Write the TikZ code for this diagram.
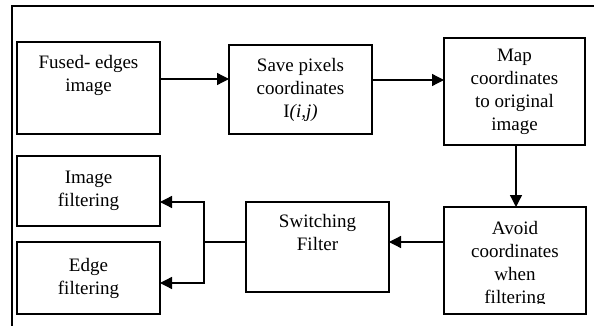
\documentclass[tikz,border=0pt]{standalone}
\usepackage{fontspec}
\setmainfont{Liberation Serif}
\usetikzlibrary{arrows.meta}
\begin{document}
\begin{tikzpicture}[x=1pt,y=-1pt,
  every node/.style={inner sep=0pt, outer sep=0pt},
  blocktext/.style={align=center, font=\fontsize{19}{23}\selectfont},
  blockbox/.style={draw, line width=1.4pt, rectangle, blocktext},
  flow/.style={line width=1.3pt, -{Triangle[length=12pt,width=12pt]}},
  plain/.style={line width=1.3pt}]
\useasboundingbox (0,0) rectangle (594,326);
% outer frame (open at right and bottom)
\draw[line width=1.3pt] (12,326) -- (12,6) -- (594,6);

% blocks
\node[blockbox, minimum width=143pt, minimum height=92pt] (fused) at (88.5,88) {Fused- edges\\image\\\strut};
\node[blockbox, minimum width=143pt, minimum height=89pt] (save) at (300.5,89.5) {Save pixels\\coordinates\\I\textit{(i,j)}};
\node[blockbox, minimum width=141pt, minimum height=107pt] (map) at (514.5,91.5) {Map\\coordinates\\to original\\image};
\node[blockbox, minimum width=142pt, minimum height=107pt] (avoid) at (515,260.5) {};
\node[blocktext] (avoidtext) at (515,264.5) {Avoid\\coordinates\\when\\filtering};
\node[blockbox, minimum width=143pt, minimum height=90pt] (switch) at (317.5,247) {Switching\\Filter\\\strut};
\node[blockbox, minimum width=143pt, minimum height=70pt] (imgf) at (88.5,191) {Image\\filtering};
\node[blockbox, minimum width=143pt, minimum height=72pt] (edgef) at (88.5,278) {Edge\\filtering};

% the last text line of the avoid block is cut off at its descenders
\fill[white] (446,303.5) rectangle (584,312.3);

% connectors
\coordinate (split) at (204,242);
\draw[flow] ([yshift=9pt]fused.east) -- ([yshift=9pt]fused.east -| save.west);
\draw[flow] ([yshift=9.5pt]save.east) -- ([yshift=9.5pt]save.east -| map.west);
\draw[flow] ([xshift=1.5pt]map.south) -- ([xshift=1.5pt]map.south |- avoid.north);
\draw[flow] ([yshift=18.5pt]avoid.west) -- ([yshift=18.5pt]avoid.west -| switch.east);
\draw[plain] (switch.west) ++(0,-5) -- (split);
\draw[flow] (split) |- ([yshift=-11pt]imgf.east);
\draw[flow] (split) |- ([yshift=-5pt]edgef.east);
\end{tikzpicture}
\end{document}
